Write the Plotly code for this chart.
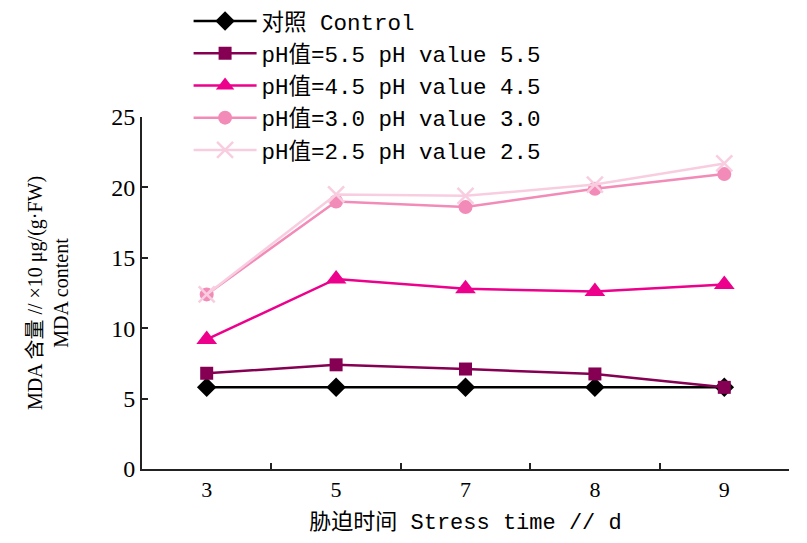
import plotly.graph_objects as go

days = ["3", "5", "7", "8", "9"]
control = [5.8, 5.8, 5.8, 5.8, 5.8]
ph55 = [6.8, 7.4, 7.1, 6.75, 5.8]
ph45 = [9.2, 13.5, 12.8, 12.6, 13.1]
ph30 = [12.4, 19.0, 18.6, 19.9, 20.95]
ph25 = [12.4, 19.5, 19.4, 20.2, 21.7]

names = ["对照 Control", "pH值=5.5 pH value 5.5", "pH值=4.5 pH value 4.5",
         "pH值=3.0 pH value 3.0", "pH值=2.5 pH value 2.5"]

serif = "Liberation Serif, Noto Sans CJK SC"
mono = "Liberation Mono, Noto Sans CJK SC"

fig = go.Figure()
fig.add_trace(go.Scatter(x=days, y=control, name=names[0], mode="lines+markers",
                         line=dict(color="#000000", width=2.5),
                         marker=dict(symbol="diamond", size=15, color="#000000")))
fig.add_trace(go.Scatter(x=days, y=ph55, name=names[1], mode="lines+markers",
                         line=dict(color="#850052", width=2.5),
                         marker=dict(symbol="square", size=13, color="#850052")))
fig.add_trace(go.Scatter(x=days, y=ph45, name=names[2], mode="lines+markers",
                         line=dict(color="#EC008C", width=2.5),
                         marker=dict(symbol="triangle-up", size=18, color="#EC008C")))
fig.add_trace(go.Scatter(x=days, y=ph30, name=names[3], mode="lines+markers",
                         line=dict(color="#F28BB8", width=2.5),
                         marker=dict(symbol="circle", size=14, color="#F28BB8")))
fig.add_trace(go.Scatter(x=days, y=ph25, name=names[4], mode="lines+markers",
                         line=dict(color="#F9CDE0", width=2.5),
                         marker=dict(symbol="x-thin-open", size=16,
                                     line=dict(color="#F9CDE0", width=2.5))))

fig.update_layout(
    width=807, height=543,
    margin=dict(l=134, r=26, t=109, b=82, autoexpand=False),
    paper_bgcolor="white", plot_bgcolor="white",
    font=dict(family=serif, size=22, color="#000000"),
    showlegend=True,
    legend=dict(x=0.072, y=1.333, xanchor="left", yanchor="top",
                bgcolor="rgba(0,0,0,0)", itemwidth=63,
                font=dict(family=mono, size=22.5), tracegroupgap=0),
    xaxis=dict(type="category", range=[-0.5, 4.5], showline=True,
               linecolor="#222222", linewidth=2,
               ticks="inside", tickson="boundaries", ticklen=6, tickwidth=2,
               tickcolor="#222222", showgrid=False, zeroline=False, automargin=False,
               tickfont=dict(family=serif, size=22),
               title=dict(text="胁迫时间 Stress time // d",
                          font=dict(family=mono, size=22), standoff=12)),
    yaxis=dict(range=[0, 25], dtick=5, showline=True, linecolor="#222222", linewidth=2,
               ticks="inside", ticklen=6, tickwidth=2, tickcolor="#222222",
               showgrid=False, zeroline=False, automargin=False,
               tickfont=dict(family=serif, size=24),
               title=dict(text="MDA 含量 // ×10 μg/(g·FW)<br>MDA content",
                          font=dict(family=serif, size=20), standoff=37)),
)

fig.write_html("out.html")
